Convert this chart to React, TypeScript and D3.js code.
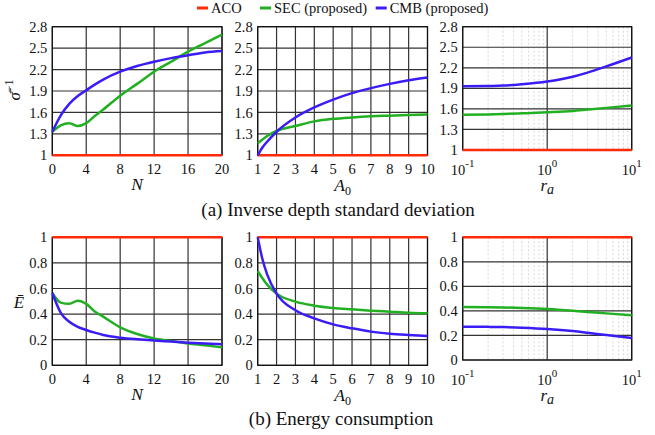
import React from "react";
import * as d3 from "d3";

// tick labels
const nTicks = [0, 4, 8, 12, 16, 20];
const aTicks = [1, 2, 3, 4, 5, 6, 7, 8, 9, 10];
const rTicks = [0.1, 1, 10];
const rTickExp = ["-1", "0", "1"];
const sigmaTicks = [1, 1.3, 1.6, 1.9, 2.2, 2.5, 2.8];
const energyTicks = [0, 0.2, 0.4, 0.6, 0.8, 1];

// x samples
const nVals = [0, 1, 2, 3, 4, 5, 6, 8, 10, 12, 14, 16, 18, 20];
const aVals = [1, 1.25, 1.5, 2, 3, 4, 5, 6, 7, 8, 9, 10];
const rVals = [0.1, 0.2, 0.3, 0.5, 1, 2, 3, 5, 10];

// (a) inverse depth std
const sigN_aco = [1, 1, 1, 1, 1, 1, 1, 1, 1, 1, 1, 1, 1, 1];
const sigN_sec = [1.33, 1.42, 1.45, 1.41, 1.45, 1.55, 1.64, 1.835, 2.0, 2.17, 2.31, 2.45, 2.57, 2.69];
const sigN_cmb = [1.33, 1.56, 1.72, 1.83, 1.91, 1.99, 2.06, 2.17, 2.25, 2.31, 2.36, 2.4, 2.44, 2.46];

const sigA_aco = [1, 1, 1, 1, 1, 1, 1, 1, 1, 1, 1, 1];
const sigA_sec = [1.17, 1.22, 1.27, 1.34, 1.41, 1.475, 1.51, 1.53, 1.545, 1.555, 1.565, 1.57];
const sigA_cmb = [1.0, 1.11, 1.19, 1.33, 1.53, 1.67, 1.78, 1.87, 1.94, 2.0, 2.05, 2.09];

const sigR_aco = [1, 1, 1, 1, 1, 1, 1, 1, 1];
const sigR_sec = [1.515, 1.52, 1.525, 1.535, 1.55, 1.57, 1.59, 1.615, 1.65];
const sigR_cmb = [1.93, 1.935, 1.94, 1.96, 2.0, 2.07, 2.13, 2.22, 2.35];

// (b) energy consumption
const enN_aco = [1, 1, 1, 1, 1, 1, 1, 1, 1, 1, 1, 1, 1, 1];
const enN_sec = [0.565, 0.49, 0.48, 0.505, 0.48, 0.42, 0.38, 0.297, 0.245, 0.21, 0.19, 0.17, 0.156, 0.14];
const enN_cmb = [0.565, 0.41, 0.34, 0.3, 0.276, 0.255, 0.237, 0.216, 0.203, 0.193, 0.185, 0.177, 0.17, 0.164];

const enA_aco = [1, 1, 1, 1, 1, 1, 1, 1, 1, 1, 1, 1];
const enA_sec = [0.737, 0.68, 0.63, 0.56, 0.497, 0.466, 0.448, 0.437, 0.427, 0.419, 0.411, 0.406];
const enA_cmb = [1.0, 0.83, 0.71, 0.56, 0.43, 0.367, 0.32, 0.289, 0.263, 0.247, 0.237, 0.229];

const enR_aco = [1, 1, 1, 1, 1, 1, 1, 1, 1];
const enR_sec = [0.432, 0.43, 0.428, 0.424, 0.416, 0.402, 0.392, 0.38, 0.364];
const enR_cmb = [0.272, 0.27, 0.268, 0.263, 0.253, 0.236, 0.222, 0.203, 0.18];

const RED = "#ff2a0a";
const GREEN = "#22b022";
const BLUE = "#3a1df5";
const FONT = "'Liberation Serif', Tinos, 'Times New Roman', Times, 'DejaVu Serif', serif";
const GRID = "#333";

const legendItems = [
  { name: "ACO", color: RED },
  { name: "SEC (proposed)", color: GREEN },
  { name: "CMB (proposed)", color: BLUE },
];

function Panel({ left, right, top, bottom, xs, xDomain, yDomain, xTicks, yTicks, log, series, xLabel, labelGap }) {
  const x = log
    ? d3.scaleLog().domain(xDomain).range([left, right])
    : d3.scaleLinear().domain(xDomain).range([left, right]);
  const y = d3.scaleLinear().domain(yDomain).range([bottom, top]);
  const line = d3.line<number>()
    .x((d, i) => x(xs[i]))
    .y((d) => y(d))
    .curve(d3.curveMonotoneX);

  const minor: number[] = [];
  if (log) {
    [0.1, 1].forEach((dec) => {
      for (let k = 2; k <= 9; k++) minor.push(dec * k);
    });
  }

  return (
    <g>
      {minor.map((m, i) => (
        <line key={"m" + i} x1={x(m)} x2={x(m)} y1={top} y2={bottom}
          stroke="#cfcfcf" strokeWidth={0.8} strokeDasharray="2,2" />
      ))}
      {xTicks.map((t, i) => (
        <line key={"gx" + i} x1={x(t)} x2={x(t)} y1={top} y2={bottom} stroke={GRID} strokeWidth={1.2} />
      ))}
      {yTicks.map((t, i) => (
        <line key={"gy" + i} x1={left} x2={right} y1={y(t)} y2={y(t)} stroke={GRID} strokeWidth={1.2} />
      ))}
      <rect x={left} y={top} width={right - left} height={bottom - top} fill="none" stroke="#111" strokeWidth={1.2} />
      {series.map((s, i) => (
        <path key={"s" + i} d={line(s.values) || ""} fill="none" stroke={s.color} strokeWidth={2.5} />
      ))}
      {yTicks.map((t, i) => (
        <text key={"ty" + i} x={left - 5} y={y(t)} dy="0.35em" textAnchor="end"
          fontSize={14.5} fontFamily={FONT} fill="#111">{String(t)}</text>
      ))}
      {xTicks.map((t, i) =>
        log ? (
          <text key={"tx" + i} x={x(t)} y={bottom + 24.5} textAnchor="middle" fontSize={14.5} fontFamily={FONT} fill="#111">
            10<tspan dy={-8} fontSize={11}>{rTickExp[i]}</tspan>
          </text>
        ) : (
          <text key={"tx" + i} x={x(t)} y={bottom + 19} textAnchor="middle" fontSize={14.5} fontFamily={FONT} fill="#111">
            {String(t)}
          </text>
        )
      )}
      <text x={(left + right) / 2} y={bottom + labelGap} textAnchor="middle" fontSize={17.5} fontFamily={FONT} fill="#111">
        {xLabel}
      </text>
    </g>
  );
}

const labN = <tspan fontStyle="italic">N</tspan>;
const labA = (
  <>
    <tspan fontStyle="italic">A</tspan>
    <tspan dy={4} fontSize={12}>0</tspan>
  </>
);
const labR = (
  <>
    <tspan fontStyle="italic" fontSize={17}>r</tspan>
    <tspan dy={3} fontSize={14} fontStyle="italic">a</tspan>
  </>
);

function Row({ top, bottom, bottom3, yDomain, yTicks, data }) {
  return (
    <g>
      <Panel left={52.3} right={222} top={top} bottom={bottom} xs={nVals} xDomain={[0, 20]} yDomain={yDomain}
        xTicks={nTicks} yTicks={yTicks} log={false} series={data[0]} xLabel={labN} labelGap={34.5} />
      <Panel left={257.7} right={427.5} top={top} bottom={bottom} xs={aVals} xDomain={[1, 10]} yDomain={yDomain}
        xTicks={aTicks} yTicks={yTicks} log={false} series={data[1]} xLabel={labA} labelGap={35.5} />
      <Panel left={462.7} right={631.7} top={top} bottom={bottom3} xs={rVals} xDomain={[0.1, 10]} yDomain={yDomain}
        xTicks={rTicks} yTicks={yTicks} log={true} series={data[2]} xLabel={labR} labelGap={41} />
    </g>
  );
}

const mk = (aco, sec, cmb) => [
  { color: RED, values: aco },
  { color: GREEN, values: sec },
  { color: BLUE, values: cmb },
];

export default function App() {
  const legendX = [197, 260, 375.7];
  return (
    <svg width={655} height={435} fontFamily={FONT} style={{ position: "absolute", left: 0, top: 0, background: "#fff", fontFamily: FONT }}>
      {legendItems.map((it, i) => (
        <g key={it.name}>
          <line x1={legendX[i]} x2={legendX[i] + 11} y1={8} y2={8} stroke={it.color} strokeWidth={3} />
          <text x={legendX[i] + 14} y={13} fontSize={14.5} fontFamily={FONT} fill="#111">{it.name}</text>
        </g>
      ))}

      <Row top={26.7} bottom={155.3} bottom3={150} yDomain={[1, 2.8]} yTicks={sigmaTicks}
        data={[mk(sigN_aco, sigN_sec, sigN_cmb), mk(sigA_aco, sigA_sec, sigA_cmb), mk(sigR_aco, sigR_sec, sigR_cmb)]} />
      <Row top={237.3} bottom={365.3} bottom3={360} yDomain={[0, 1]} yTicks={energyTicks}
        data={[mk(enN_aco, enN_sec, enN_cmb), mk(enA_aco, enA_sec, enA_cmb), mk(enR_aco, enR_sec, enR_cmb)]} />

      <text transform="translate(20,90) rotate(-90)" textAnchor="middle" fontSize={17} fontFamily={FONT} fill="#111">
        <tspan fontStyle="italic">σ̄</tspan>
        <tspan dy={-7} fontSize={12}>−1</tspan>
      </text>
      <text x={19} y={308} textAnchor="middle" fontSize={17} fontFamily={FONT} fontStyle="italic" fill="#111">Ē</text>

      <text x={338} y={215.5} textAnchor="middle" fontSize={19} fontFamily={FONT} fill="#111">
        (a) Inverse depth standard deviation
      </text>
      <text x={341} y={425} textAnchor="middle" fontSize={19} fontFamily={FONT} fill="#111">
        (b) Energy consumption
      </text>
    </svg>
  );
}
